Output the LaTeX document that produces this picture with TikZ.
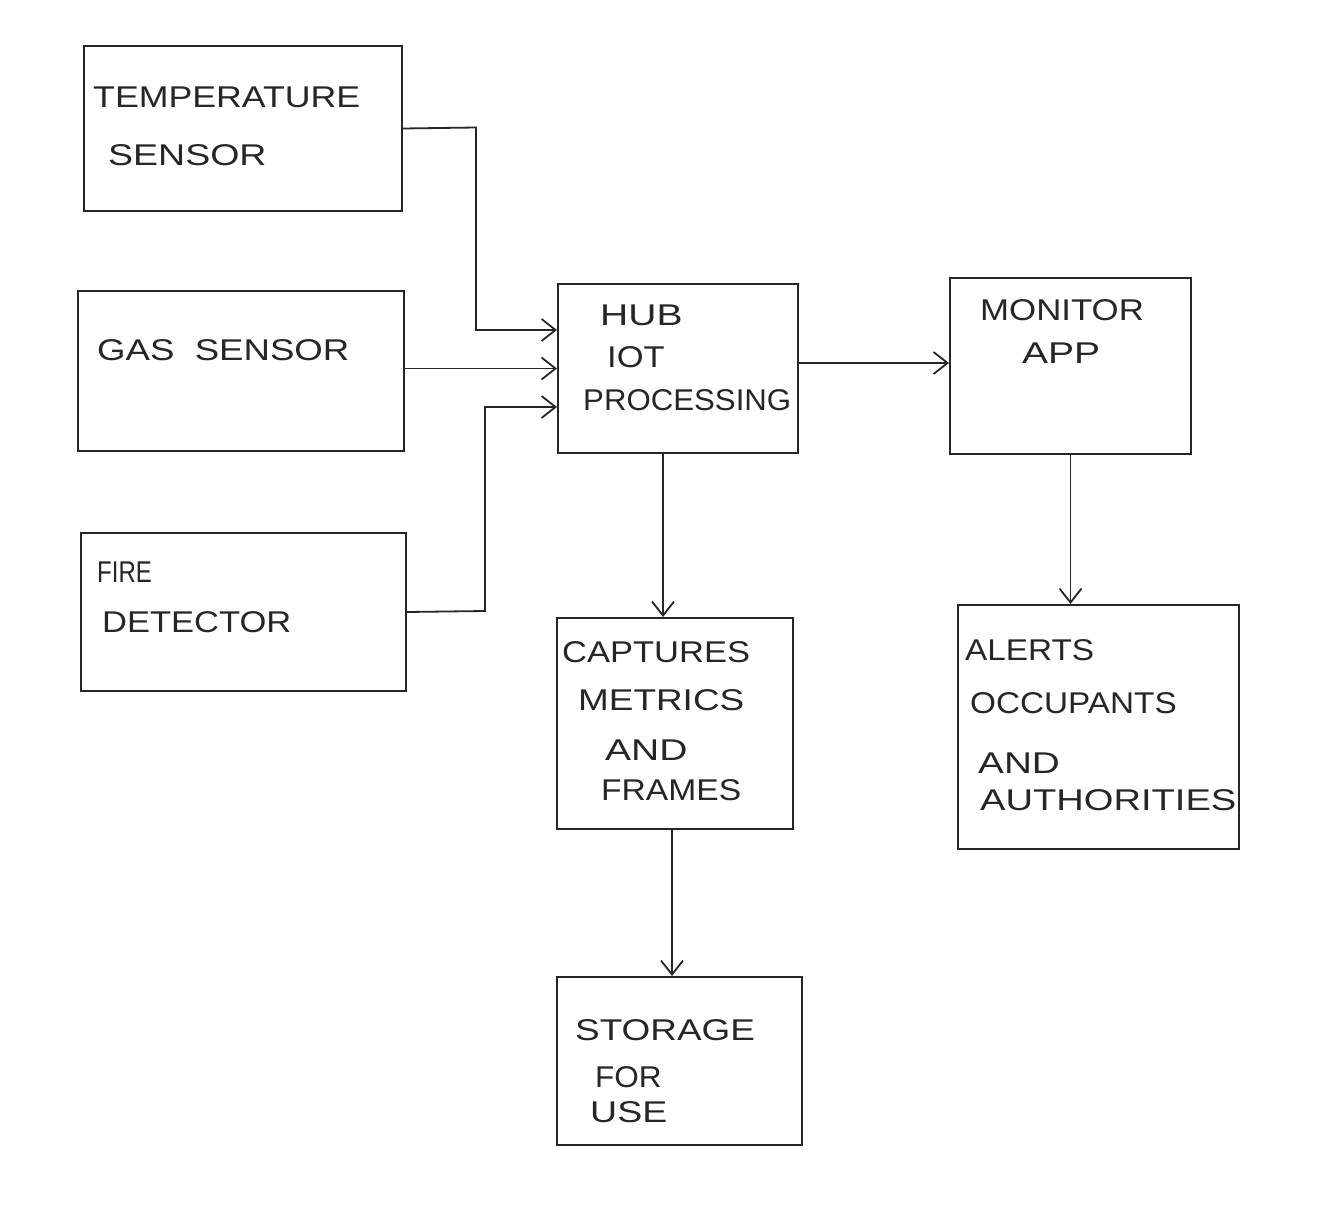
\documentclass[tikz,border=0pt]{standalone}
\usepackage{fontspec}
\setmainfont{Liberation Sans}
\usetikzlibrary{arrows.meta}
\newcommand{\sx}[2]{\scalebox{#1}[1]{#2}}
\begin{document}
\begin{tikzpicture}[x=1pt,y=-1pt,
  box/.style={draw=black!85, line width=2pt, rectangle, anchor=north west, inner sep=0pt},
  lbl/.style={anchor=west, inner sep=0pt, font=\fontsize{30}{36}\selectfont, text=black!85},
  arr/.style={draw=black!85, line width=1.8pt, -{Straight Barb[length=14pt,width=22pt,line width=1.8pt]}}]
\useasboundingbox[fill=white] (0,0) rectangle (1317,1206);
% boxes
\node[box, minimum width=318pt, minimum height=165pt] (temp) at (83,45) {};
\node[box, minimum width=326pt, minimum height=160pt] (gas) at (77,290) {};
\node[box, minimum width=325pt, minimum height=158pt] (fire) at (80,532) {};
\node[box, minimum width=240pt, minimum height=169pt] (hub) at (557,283) {};
\node[box, minimum width=241pt, minimum height=176pt] (mon) at (949,277) {};
\node[box, minimum width=236pt, minimum height=211pt] (cap) at (556,617) {};
\node[box, minimum width=281pt, minimum height=244pt] (alert) at (957,604) {};
\node[box, minimum width=245pt, minimum height=168pt] (stor) at (556,976) {};
% labels
\node[lbl] (t1) at (93,97) {\sx{1.19}{TEMPERATURE}};
\node[lbl] (t2) at (108,155) {\sx{1.25}{SENSOR}};
\node[lbl] (g1) at (97,350) {\sx{1.22}{GAS\ \ SENSOR}};
\node[lbl] (f1) at (97,572) {\sx{0.8}{FIRE}};
\node[lbl] (f2) at (102,622) {\sx{1.15}{DETECTOR}};
\node[lbl] (h1) at (600,315) {\sx{1.3}{HUB}};
\node[lbl] (h2) at (607,357) {\sx{1.15}{IOT}};
\node[lbl] (h3) at (583,400) {\sx{1.04}{PROCESSING}};
\node[lbl] (m1) at (980,310) {\sx{1.16}{MONITOR}};
\node[lbl] (m2) at (1022,353) {\sx{1.3}{APP}};
\node[lbl] (c1) at (562,652) {\sx{1.15}{CAPTURES}};
\node[lbl] (c2) at (578,700) {\sx{1.23}{METRICS}};
\node[lbl] (c3) at (605,750) {\sx{1.3}{AND}};
\node[lbl] (c4) at (601,790) {\sx{1.12}{FRAMES}};
\node[lbl] (a1) at (965,650) {\sx{1.11}{ALERTS}};
\node[lbl] (a2) at (970,703) {\sx{1.11}{OCCUPANTS}};
\node[lbl] (a3) at (978,763) {\sx{1.29}{AND}};
\node[lbl] (a4) at (980,800) {\sx{1.27}{AUTHORITIES}};
\node[lbl] (s1) at (575,1030) {\sx{1.23}{STORAGE}};
\node[lbl] (s2) at (595,1077) {\sx{1.05}{FOR}};
\node[lbl] (s3) at (590,1112) {\sx{1.25}{USE}};
% connectors
\coordinate (tk1) at (476,127.5);
\coordinate (tk2) at (476,330);
\coordinate (fk1) at (485,611);
\coordinate (fk2) at (485,407);
\draw[arr] (temp.east) -- (tk1) -- (tk2) -- (hub.west |- tk2);
\draw[arr] (gas.east |- hub.west) -- (hub.west);
\draw[arr] (fire.east) -- (fk1) -- (fk2) -- (hub.west |- fk2);
\draw[arr] (hub.east |- {(0,363)}) -- (mon.west |- {(0,363)});
\draw[arr] (hub.south -| {(663,0)}) -- (cap.north -| {(663,0)});
\draw[arr] (mon.south) -- (mon.south |- alert.north);
\draw[arr] (cap.south -| {(672,0)}) -- (stor.north -| {(672,0)});
\end{tikzpicture}
\end{document}
